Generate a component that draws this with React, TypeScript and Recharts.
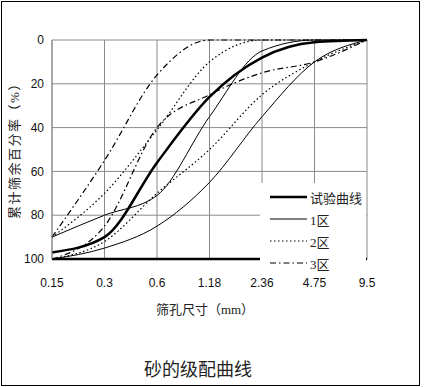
import { LineChart, Line, XAxis, YAxis, CartesianGrid } from "recharts";

const sizes = ["0.15", "0.3", "0.6", "1.18", "2.36", "4.75", "9.5"];
const yTicks = [0, 20, 40, 60, 80, 100];

const testCurve = [97, 90, 56, 26, 8, 1, 0];
const zone1Fine = [100, 95, 85, 65, 35, 10, 0];
const zone1Coarse = [90, 80, 71, 35, 5, 0, 0];
const zone2Fine = [100, 92, 70, 50, 25, 10, 0];
const zone2Coarse = [90, 70, 41, 10, 0, 0, 0];
const zone3Fine = [100, 85, 40, 25, 15, 10, 0];
const zone3Coarse = [90, 55, 16, 0, 0, 0, 0];

const data = sizes.map((s, i) => ({
    size: s,
    test: testCurve[i],
    z1a: zone1Fine[i],
    z1b: zone1Coarse[i],
    z2a: zone2Fine[i],
    z2b: zone2Coarse[i],
    z3a: zone3Fine[i],
    z3b: zone3Coarse[i],
}));

const DOTTED = "1.5 2.5";
const DASHDOT = "6 3 1.5 3";

const legendRows = [
    { name: "试验曲线", width: 2.5, dash: undefined },
    { name: "1区", width: 1, dash: undefined },
    { name: "2区", width: 1, dash: DOTTED },
    { name: "3区", width: 1, dash: DASHDOT },
];

const font = "'Liberation Sans', Arial, sans-serif";
const cjk = "'Liberation Serif', 'Noto Sans CJK SC', serif";

// legend sits in a white box over the lower right of the plot, like the excel original
function GradLegend() {
    return (
        <div style={{
            position: "absolute", left: 260, top: 183, width: 106, height: 84,
            background: "#fff", paddingTop: 3,
        }}>
            {legendRows.map((r) => (
                <div key={r.name} style={{ display: "flex", alignItems: "center", height: 22 }}>
                    <svg width={50} height={10} style={{ display: "block" }}>
                        <line x1={10} x2={47} y1={5} y2={5} stroke="#000"
                            strokeWidth={r.width} strokeDasharray={r.dash} />
                    </svg>
                    <span style={{ fontFamily: cjk, fontSize: 13, color: "#222" }}>{r.name}</span>
                </div>
            ))}
        </div>
    );
}

export default function App() {
    return (
        <div style={{ position: "absolute", left: 0, top: 0, width: 424, height: 387, background: "#fff" }}>
            <div style={{
                position: "absolute", left: 1, top: 1, width: 417, height: 383,
                border: "1px solid #000",
            }} />
            <LineChart width={424} height={387} data={data}
                margin={{ top: 40, right: 57, bottom: 98, left: 0 }}>
                <CartesianGrid stroke="#8a8a8a" strokeWidth={1} />
                <XAxis dataKey="size" interval={0} height={30} tickLine={false}
                    axisLine={{ stroke: "#000", strokeWidth: 2.5 }} tickMargin={13}
                    tick={{ fontSize: 12, fill: "#111", fontFamily: font }} />
                <YAxis width={52} reversed domain={[0, 100]} ticks={yTicks} tickLine={false}
                    axisLine={{ stroke: "#8a8a8a" }}
                    tick={{ fontSize: 12, fill: "#111", fontFamily: font }} />
                <Line type="monotone" dataKey="z1a" stroke="#000" strokeWidth={1} dot={false} isAnimationActive={false} />
                <Line type="monotone" dataKey="z1b" stroke="#000" strokeWidth={1} dot={false} isAnimationActive={false} />
                <Line type="monotone" dataKey="z2a" stroke="#000" strokeWidth={1.2} strokeDasharray={DOTTED} dot={false} isAnimationActive={false} />
                <Line type="monotone" dataKey="z2b" stroke="#000" strokeWidth={1.2} strokeDasharray={DOTTED} dot={false} isAnimationActive={false} />
                <Line type="monotone" dataKey="z3a" stroke="#000" strokeWidth={1.2} strokeDasharray={DASHDOT} dot={false} isAnimationActive={false} />
                <Line type="monotone" dataKey="z3b" stroke="#000" strokeWidth={1.2} strokeDasharray={DASHDOT} dot={false} isAnimationActive={false} />
                <Line type="monotone" dataKey="test" stroke="#000" strokeWidth={2.5} dot={false} isAnimationActive={false} />
            </LineChart>
            <GradLegend />
            <div style={{
                position: "absolute", left: 6, top: 47, width: 14, height: 200,
                display: "flex", alignItems: "center", justifyContent: "center",
            }}>
                <div style={{
                    transform: "rotate(-90deg)", whiteSpace: "nowrap",
                    fontFamily: cjk, fontSize: 13, letterSpacing: 1.5, color: "#222",
                }}>累计筛余百分率（%）</div>
            </div>
            <div style={{
                position: "absolute", left: 105, top: 299, width: 200, textAlign: "center",
                fontFamily: cjk, fontSize: 13, color: "#222",
            }}>筛孔尺寸（mm）</div>
            <div style={{
                position: "absolute", left: 98, top: 355, width: 200, textAlign: "center",
                fontFamily: cjk, fontSize: 18, color: "#222",
            }}>砂的级配曲线</div>
        </div>
    );
}
